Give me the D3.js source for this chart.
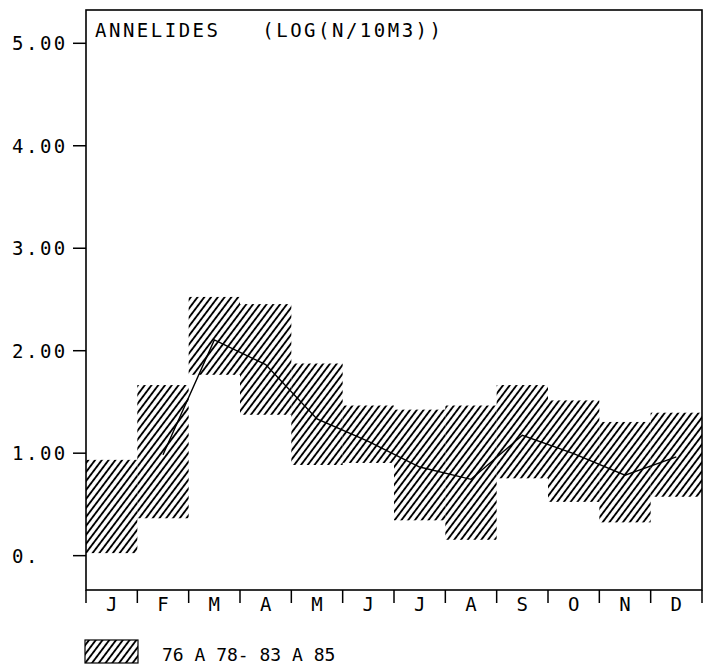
<!DOCTYPE html>
<html>
<head>
<meta charset="utf-8">
<script src="https://cdn.jsdelivr.net/npm/d3@7"></script>
<style>
  body { margin: 0; background: #fff; }
  text { font-family: "DejaVu Sans Mono", monospace; fill: #000; }
</style>
</head>
<body>
<script>
// Monthly ranges (hatched boxes) and mean curve, log(N/10m3)
const months = ["JAN", "FEB", "MAR", "APR", "MAY", "JUN", "JUL", "AUG", "SEP", "OCT", "NOV", "DEC"];
const monthLabels = ["J", "F", "M", "A", "M", "J", "J", "A", "S", "O", "N", "D"];
const rangeMin = [0.02, 0.36, 1.76, 1.37, 0.88, 0.90, 0.34, 0.15, 0.75, 0.52, 0.32, 0.57];
const rangeMax = [0.93, 1.66, 2.52, 2.45, 1.87, 1.46, 1.42, 1.46, 1.66, 1.51, 1.30, 1.39];
const meanValues = [null, 0.98, 2.10, 1.86, 1.33, 1.11, 0.86, 0.74, 1.17, 0.99, 0.78, 0.96];
const yTicks = [0, 1, 2, 3, 4, 5];
const yTickLabels = ["0.", "1.00", "2.00", "3.00", "4.00", "5.00"];
const title = "ANNELIDES   (LOG(N/10M3))";
const legendLabel = "76 A 78- 83 A 85";

const margin = { top: 10, left: 86 },
    width = 616,
    height = 580;

const svg = d3.select("body")
    .append("svg")
    .attr("width", 711)
    .attr("height", 666);

// hatch pattern
const defs = svg.append("defs");
const hatch = defs.append("pattern")
    .attr("id", "hatch")
    .attr("patternUnits", "userSpaceOnUse")
    .attr("width", 5.4)
    .attr("height", 10)
    .attr("patternTransform", "rotate(37)");
hatch.append("line")
    .attr("x1", 2.7).attr("y1", 0)
    .attr("x2", 2.7).attr("y2", 10)
    .attr("stroke", "#000")
    .attr("stroke-width", 1.9);

const g = svg.append("g")
    .attr("transform", `translate(${margin.left},${margin.top})`);

const x = d3.scaleBand()
    .domain(months)
    .range([0, width])
    .padding(0);

const y = d3.scaleLinear()
    .domain([-0.34, 5.32])
    .range([height, 0]);

const boxData = months.map((m, i) => ({ m, lo: rangeMin[i], hi: rangeMax[i] }));

g.selectAll("rect.box")
    .data(boxData)
    .join("rect")
    .attr("class", "box")
    .attr("x", d => x(d.m))
    .attr("width", x.bandwidth())
    .attr("y", d => y(d.hi))
    .attr("height", d => y(d.lo) - y(d.hi))
    .attr("fill", "url(#hatch)");

// mean line
const lineData = months.map((m, i) => ({ m, v: meanValues[i] }));
const line = d3.line()
    .defined(d => d.v != null)
    .x(d => x(d.m) + x.bandwidth() / 2)
    .y(d => y(d.v));

g.append("path")
    .datum(lineData)
    .attr("d", line)
    .attr("fill", "none")
    .attr("stroke", "#000")
    .attr("stroke-width", 1.4);

// frame
g.append("rect")
    .attr("x", 0).attr("y", 0)
    .attr("width", width).attr("height", height)
    .attr("fill", "none")
    .attr("stroke", "#000")
    .attr("stroke-width", 1.6);

// y axis
const yAxis = g.append("g")
    .call(d3.axisLeft(y).tickValues(yTicks).tickSize(13).tickFormat((d, i) => yTickLabels[i]));
yAxis.select(".domain").remove();
yAxis.selectAll("line").attr("stroke", "#000").attr("stroke-width", 1.5);
yAxis.selectAll("text")
    .attr("x", -74)
    .attr("dy", "0.36em")
    .attr("text-anchor", "start")
    .style("font-size", "19px")
    .style("letter-spacing", "2.5px");

// x axis: boundary ticks + month labels
const bounds = months.map(m => x(m)).concat([x.range()[1]]);
g.append("g")
    .selectAll("line")
    .data(bounds)
    .join("line")
    .attr("x1", d => d).attr("x2", d => d)
    .attr("y1", height).attr("y2", height + 13)
    .attr("stroke", "#000")
    .attr("stroke-width", 1.5);

const xAxis = g.append("g")
    .attr("transform", `translate(0,${height})`)
    .call(d3.axisBottom(x).tickSize(0).tickFormat((d, i) => monthLabels[i]));
xAxis.select(".domain").remove();
xAxis.selectAll("text")
    .attr("y", 8)
    .attr("dy", "0.71em")
    .style("font-size", "19px");

// title
svg.append("text")
    .attr("x", 95)
    .attr("y", 37)
    .style("font-size", "19px")
    .style("letter-spacing", "2.5px")
    .style("white-space", "pre")
    .text(title);

// legend
svg.append("rect")
    .attr("x", 85).attr("y", 640)
    .attr("width", 53).attr("height", 23)
    .attr("fill", "url(#hatch)")
    .attr("stroke", "#000")
    .attr("stroke-width", 1.2);

svg.append("text")
    .attr("x", 162)
    .attr("y", 661)
    .style("font-size", "18px")
    .style("white-space", "pre")
    .text(legendLabel);
</script>
</body>
</html>
